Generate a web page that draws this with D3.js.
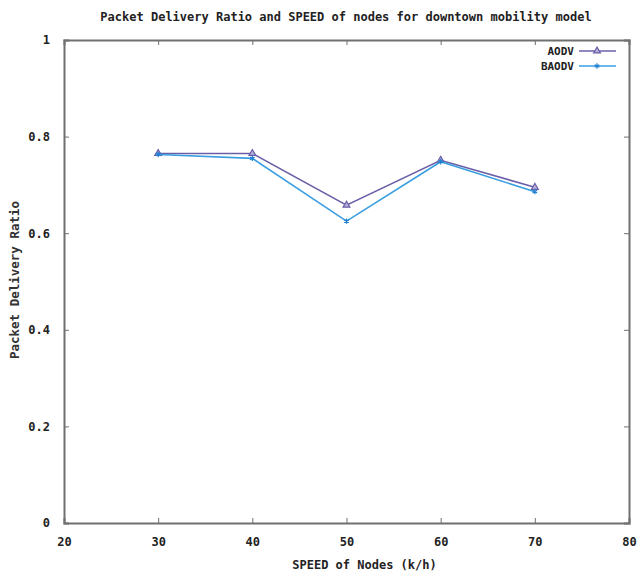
<!DOCTYPE html>
<html>
<head>
<meta charset="utf-8">
<script src="https://cdn.jsdelivr.net/npm/d3@7"></script>
<style>
  body { margin: 0; background: #fff; }
  text { font-family: "DejaVu Sans Mono", monospace; }
</style>
</head>
<body>
<svg id="chart" width="639" height="576"></svg>
<script>
const speeds = [30, 40, 50, 60, 70];
const aodv = [0.765, 0.765, 0.658, 0.751, 0.695];
const baodv = [0.763, 0.755, 0.625, 0.748, 0.686];
const xTicks = [20, 30, 40, 50, 60, 70, 80];
const yTicks = [0, 0.2, 0.4, 0.6, 0.8, 1];

const svg = d3.select('#chart');
const margin = { top: 40, bottom: 53, right: 10, left: 64 };
const width = +svg.attr('width');
const height = +svg.attr('height');
const innerWidth = width - margin.left - margin.right;
const innerHeight = height - margin.top - margin.bottom;

const xScale = d3.scaleLinear().domain([20, 80]).range([0, innerWidth]);
const yScale = d3.scaleLinear().domain([0, 1]).range([innerHeight, 0]);

const g = svg.append('g')
    .attr('transform', `translate(${margin.left}, ${margin.top})`);

const frameColor = '#707070';

// x axis, ticks point inward
const xAxisG = g.append('g')
    .attr('transform', `translate(0, ${innerHeight})`)
    .call(d3.axisBottom(xScale).tickValues(xTicks).tickSize(-5).tickPadding(14).tickFormat(d3.format('d')));

const xTopG = g.append('g')
    .call(d3.axisTop(xScale).tickValues(xTicks).tickSize(-5).tickFormat(''));

const yAxisG = g.append('g')
    .call(d3.axisLeft(yScale).tickValues(yTicks).tickSize(-5).tickPadding(14)
        .tickFormat(d => d === 0 || d === 1 ? d3.format('d')(d) : d3.format('.1f')(d)));

const yRightG = g.append('g')
    .attr('transform', `translate(${innerWidth}, 0)`)
    .call(d3.axisRight(yScale).tickValues(yTicks).tickSize(-5).tickFormat(''));

[xAxisG, yAxisG].forEach(a => {
    a.attr('font-size', 12)
        .attr('font-family', '"DejaVu Sans Mono", monospace')
        .attr('font-weight', 'bold');
    a.selectAll('text').attr('fill', '#222');
});

[xAxisG, xTopG, yAxisG, yRightG].forEach(a => {
    a.selectAll('.domain').attr('stroke', frameColor).attr('stroke-width', 2);
    a.selectAll('line').attr('stroke', frameColor);
});

// axis titles
g.append('text')
    .attr('x', innerWidth / 2 + 18)
    .attr('y', innerHeight + 46)
    .attr('text-anchor', 'middle')
    .attr('fill', '#222')
    .style('font-size', '12px')
    .style('font-weight', 'bold')
    .text('SPEED of Nodes (k/h)');

g.append('text')
    .attr('transform', 'rotate(-90)')
    .attr('x', -(280 - margin.top))
    .attr('y', -45)
    .attr('text-anchor', 'middle')
    .attr('fill', '#333')
    .style('font-size', '12.5px')
    .style('font-weight', 'bold')
    .text('Packet Delivery Ratio');

svg.append('text')
    .attr('x', 346)
    .attr('y', 21)
    .attr('text-anchor', 'middle')
    .attr('fill', '#222')
    .style('font-size', '12px')
    .style('font-weight', 'bold')
    .text('Packet Delivery Ratio and SPEED of nodes for downtown mobility model');

const series = [
    { name: 'AODV', values: aodv, color: '#6b5fa8', symbol: d3.symbolTriangle },
    { name: 'BAODV', values: baodv, color: '#3a9ee0', symbol: d3.symbolAsterisk }
];

const line = d3.line()
    .x(d => xScale(d[0]))
    .y(d => yScale(d[1]));

series.forEach((s, i) => {
    const pts = speeds.map((x, j) => [x, s.values[j]]);
    g.append('path')
        .datum(pts)
        .attr('fill', 'none')
        .attr('stroke', s.color)
        .attr('stroke-width', 1.6)
        .attr('d', line);

    g.selectAll('.pt' + i).data(pts)
        .enter().append('path')
        .attr('class', 'pt' + i)
        .attr('transform', d => `translate(${xScale(d[0])}, ${yScale(d[1])})`)
        .attr('d', d3.symbol().type(s.symbol).size(20))
        .attr('fill', i === 0 ? '#b6b0d8' : s.color)
        .attr('stroke', i === 0 ? s.color : '#1f7fd0')
        .attr('stroke-width', 1.2);

    // legend
    const ly = 11 + i * 15;
    g.append('text')
        .attr('x', 510)
        .attr('y', ly)
        .attr('dy', '0.35em')
        .attr('text-anchor', 'end')
        .attr('fill', '#222')
        .style('font-size', '11px')
        .style('font-weight', 'bold')
        .text(s.name);
    g.append('line')
        .attr('x1', 515).attr('x2', 552)
        .attr('y1', ly).attr('y2', ly)
        .attr('stroke', s.color)
        .attr('stroke-width', 1.6);
    g.append('path')
        .attr('transform', `translate(533, ${ly})`)
        .attr('d', d3.symbol().type(s.symbol).size(20))
        .attr('fill', i === 0 ? '#b6b0d8' : s.color)
        .attr('stroke', i === 0 ? s.color : '#1f7fd0')
        .attr('stroke-width', 1.2);
});
</script>
</body>
</html>
